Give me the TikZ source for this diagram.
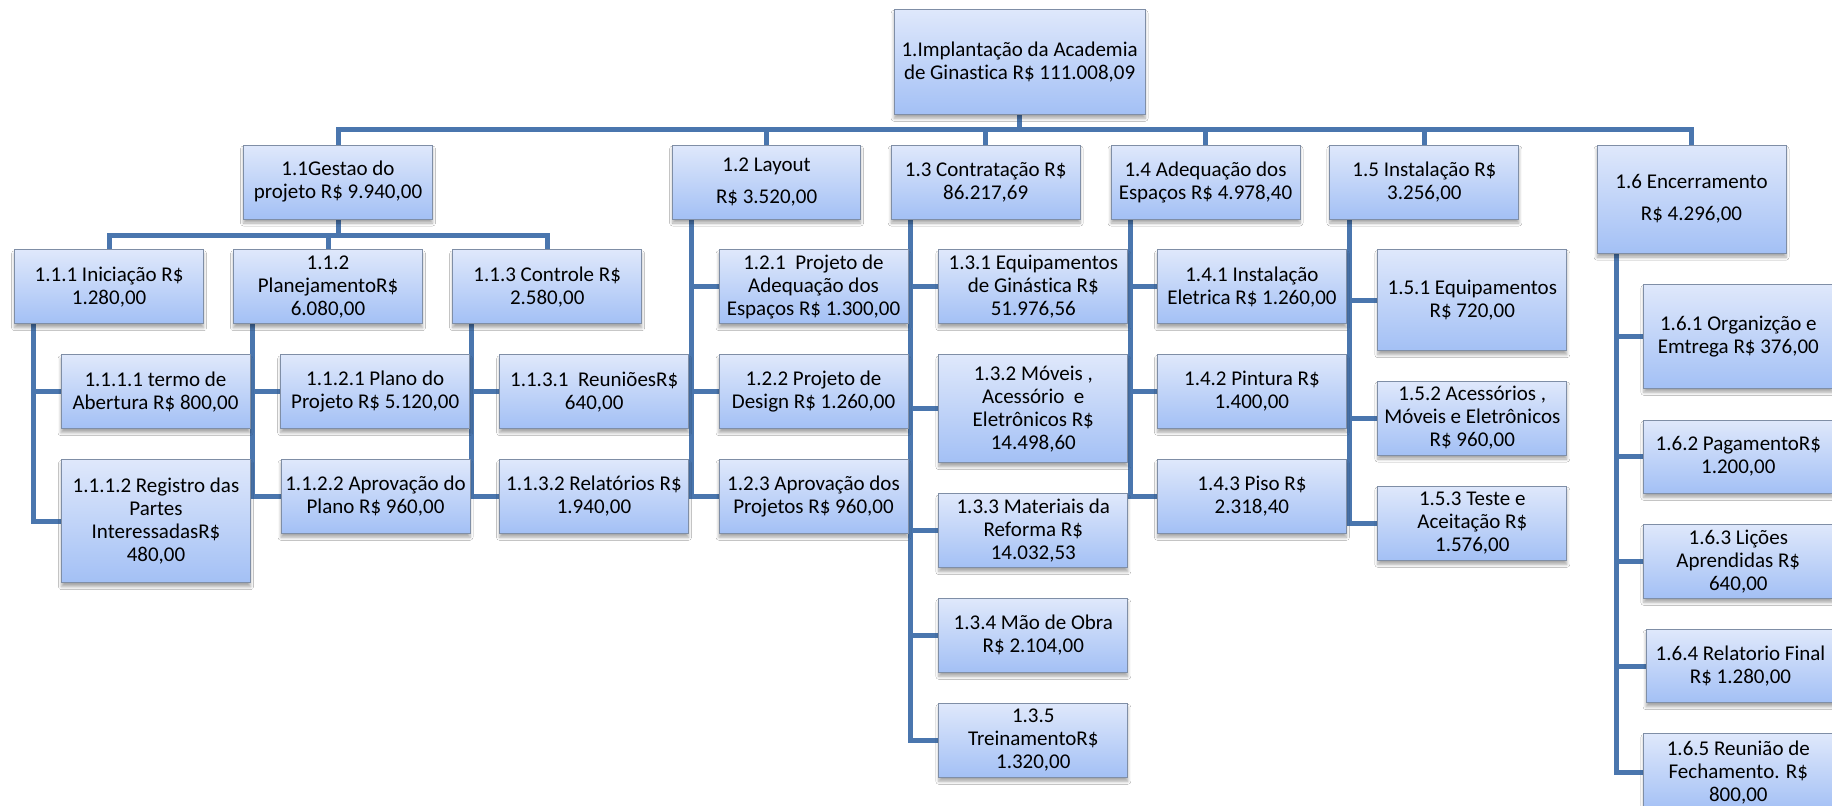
\documentclass[tikz,border=0pt]{standalone}
\usepackage{fontspec}
\setmainfont{Carlito}[Ligatures=NoCommon]
\usetikzlibrary{shadows,shadows.blur}
\definecolor{boxtop}{HTML}{DFE8FB}
\definecolor{boxbot}{HTML}{A3C0F5}
\definecolor{boxline}{HTML}{7F8EA6}
\definecolor{connc}{HTML}{4A76AE}
\pgfdeclarelayer{bg}
\pgfsetlayers{bg,main}
\tikzset{
  box/.style={rectangle, draw=boxline, line width=1pt, top color=boxtop, bottom color=boxbot,
    inner sep=0pt, outer sep=0pt, align=center, text=black,
    font=\fontsize{21}{23}\selectfont,
    blur shadow={shadow blur steps=6, shadow xshift=0pt, shadow yshift=-4pt, shadow opacity=35, shadow blur radius=3pt}},
  conn/.style={draw=connc, line width=5pt, line join=miter, line cap=butt}
}
\newcommand\bx[6]{\node[box, minimum width=#4, minimum height=#5] (#1) at (#2,#3) {#6};}
\begin{document}
\begin{tikzpicture}[x=1pt,y=-1pt]
\useasboundingbox (0,0) rectangle (1832,806);
% root
\bx{root}{1019.6}{61.8}{251}{105}{1.Implantação da Academia\\de Ginastica R\$ 111.008,09}
% level 1
\bx{l11}{338}{182}{189}{74}{1.1Gestao do\\projeto R\$ 9.940,00}
\bx{l12}{766.6}{182}{188}{74}{1.2 Layout\\[9pt]R\$ 3.520,00}
\bx{l13}{985.7}{182}{189}{74}{1.3 Contratação R\$\\86.217,69}
\bx{l14}{1205.5}{182}{189}{74}{1.4 Adequação dos\\Espaços R\$ 4.978,40}
\bx{l15}{1424.4}{182}{189}{74}{1.5 Instalação R\$\\3.256,00}
\bx{l16}{1691.5}{199.2}{189}{108}{1.6 Encerramento\\[9pt]R\$ 4.296,00}
% level 2
\bx{l111}{109.1}{286.7}{189}{74}{1.1.1 Iniciação R\$\\1.280,00}
\bx{l112}{328}{286.7}{189}{74}{1.1.2\\PlanejamentoR\$\\6.080,00}
\bx{l113}{547.2}{286.7}{189}{74}{1.1.3 Controle R\$\\2.580,00}
\bx{l121}{813.5}{286.7}{189}{74}{1.2.1\ \ Projeto de\\Adequação dos\\Espaços R\$ 1.300,00}
\bx{l131}{1033.3}{286.7}{189}{74}{1.3.1 Equipamentos\\de Ginástica R\$\\51.976,56}
\bx{l141}{1251.9}{286.7}{189}{74}{1.4.1 Instalação\\Eletrica R\$ 1.260,00}
\bx{l151}{1472.3}{300}{189}{101.4}{1.5.1 Equipamentos\\R\$ 720,00}
\bx{l161}{1738.3}{336.3}{189}{104}{1.6.1 Organizção e\\Emtrega R\$ 376,00}
% level 3
\bx{l1111}{155.5}{391.7}{189}{74}{1.1.1.1 termo de\\Abertura R\$ 800,00}
\bx{l1112}{156}{521}{189}{123.4}{1.1.1.2 Registro das\\Partes\\InteressadasR\$\\480,00}
\bx{l1121}{375.2}{391.7}{189}{74}{1.1.2.1 Plano do\\Projeto R\$ 5.120,00}
\bx{l1122}{375.5}{496.3}{189}{74}{1.1.2.2 Aprovação do\\Plano R\$ 960,00}
\bx{l1131}{594.2}{391.7}{189}{74}{1.1.3.1\ \ ReuniõesR\$\\640,00}
\bx{l1132}{594}{496.3}{189}{74}{1.1.3.2 Relatórios R\$\\1.940,00}
\bx{l122}{813.5}{391.7}{189}{74}{1.2.2 Projeto de\\Design R\$ 1.260,00}
\bx{l123}{813.5}{496.3}{189}{74}{1.2.3 Aprovação dos\\Projetos R\$ 960,00}
\bx{l132}{1033.3}{408.8}{189}{107.7}{1.3.2 Móveis ,\\Acessório\ \ e\\Eletrônicos R\$\\14.498,60}
\bx{l133}{1033.3}{530.8}{189}{73.7}{1.3.3 Materiais da\\Reforma R\$\\14.032,53}
\bx{l134}{1033.3}{635.3}{189}{74}{1.3.4 Mão de Obra\\R\$ 2.104,00}
\bx{l135}{1033.3}{740.3}{189}{74}{1.3.5\\TreinamentoR\$\\1.320,00}
\bx{l142}{1251.9}{391.3}{189}{74}{1.4.2 Pintura R\$\\1.400,00}
\bx{l143}{1251.9}{496.3}{189}{74}{1.4.3 Piso R\$\\2.318,40}
\bx{l152}{1472.3}{418}{189}{74}{1.5.2 Acessórios ,\\Móveis e Eletrônicos\\R\$ 960,00}
\bx{l153}{1472.3}{523.2}{189}{74.3}{1.5.3 Teste e\\Aceitação R\$\\1.576,00}
\bx{l162}{1738.3}{456.7}{189}{73.3}{1.6.2 PagamentoR\$\\1.200,00}
\bx{l163}{1738.3}{561.2}{189}{74.3}{1.6.3 Lições\\Aprendidas R\$\\640,00}
\bx{l164}{1740.5}{666}{189}{73.4}{1.6.4 Relatorio Final\\R\$ 1.280,00}
\bx{l165}{1738.3}{772.5}{189}{78}{1.6.5 Reunião de\\Fechamento. R\$\\800,00}
% connectors
\coordinate (bus0) at (0,129.3);
\coordinate (bus11) at (0,235);
\begin{pgfonlayer}{bg}
\fill[white] (0,0) rectangle (1832,806);
\draw[conn] (root.south) -- (root.south |- bus0);
\draw[conn] (l11.north) -- (l11.north |- bus0) -- (l16.north |- bus0) -- (l16.north);
\foreach \n in {l12,l13,l14,l15}{\draw[conn] (\n.north) -- (\n.north |- bus0);}
\draw[conn] (l11.south) -- (l11.south |- bus11);
\draw[conn] (l111.north) -- (l111.north |- bus11) -- (l113.north |- bus11) -- (l113.north);
\draw[conn] (l112.north) -- (l112.north |- bus11);
% spines
\draw[conn] ([xshift=19pt]l111.south west) |- (l1112.west);
\draw[conn] ([xshift=19pt]l111.south west) |- (l1111.west);
\draw[conn] ([xshift=19pt]l112.south west) |- (l1122.west);
\draw[conn] ([xshift=19pt]l112.south west) |- (l1121.west);
\draw[conn] ([xshift=19pt]l113.south west) |- (l1132.west);
\draw[conn] ([xshift=19pt]l113.south west) |- (l1131.west);
\foreach \c in {l121,l122,l123}{\draw[conn] ([xshift=19pt]l12.south west) |- (\c.west);}
\foreach \c in {l131,l132,l133,l134,l135}{\draw[conn] ([xshift=19.4pt]l13.south west) |- (\c.west);}
\foreach \c in {l141,l142,l143}{\draw[conn] ([xshift=19.3pt]l14.south west) |- (\c.west);}
\foreach \c in {l151,l152,l153}{\draw[conn] ([xshift=19.3pt]l15.south west) |- (\c.west);}
\foreach \c in {l161,l162,l163,l164,l165}{\draw[conn] ([xshift=19.5pt]l16.south west) |- (\c.west);}
\end{pgfonlayer}
\end{tikzpicture}
\end{document}
